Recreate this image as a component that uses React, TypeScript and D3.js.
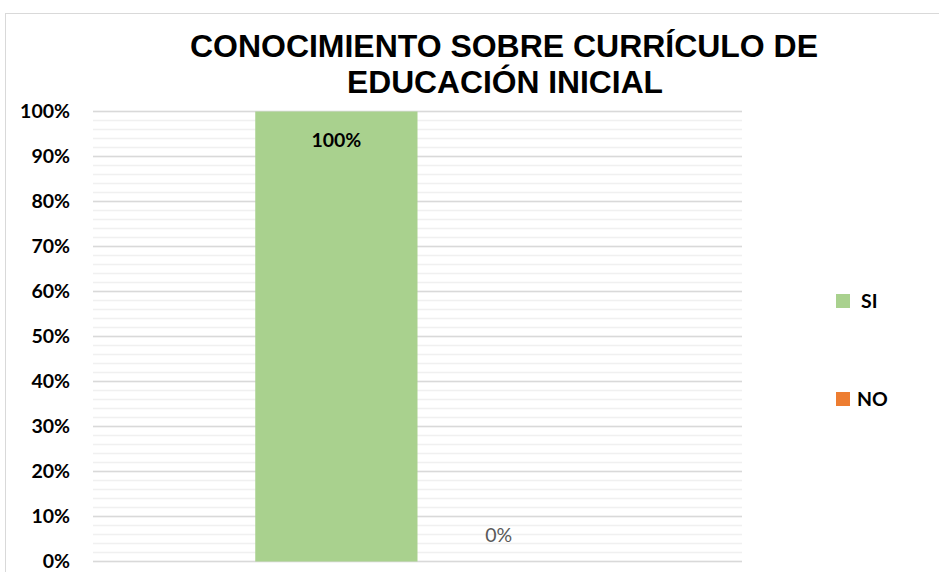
import React from "react";
import * as d3 from "d3";

const title = ["CONOCIMIENTO SOBRE CURRÍCULO DE", "EDUCACIÓN INICIAL"];
const categories = ["Conocimiento"];
const seriesNames = ["SI", "NO"];
const seriesValues = [1.0, 0.0];
const seriesColors = ["#a9d18e", "#ed7d31"];
const yTicks = [0, 0.1, 0.2, 0.3, 0.4, 0.5, 0.6, 0.7, 0.8, 0.9, 1.0];
const minorTicks = d3.range(0, 51).map((i) => i * 0.02);

const W = 939;
const H = 572;

export default function App() {
  const left = 93, right = 742, top = 111.5, bottom = 561.5;
  const y = d3.scaleLinear().domain([0, 1]).range([bottom, top]);
  const x0 = d3.scaleBand().domain(categories).range([left, right]).paddingInner(0).paddingOuter(0.5);
  const x1 = d3.scaleBand().domain(seriesNames).range([0, x0.bandwidth()]);
  const fmt = d3.format(".0%");
  const labelFont = "Lato, 'Open Sans', sans-serif";
  return (
    <svg width={W} height={H} style={{ position: "absolute", left: 0, top: 0, background: "#fff" }}>
      <rect x={5.5} y={13.5} width={W} height={H} fill="#fff" stroke="#d9d9d9" strokeWidth={1} />
      <text textAnchor="middle" fontFamily="'Liberation Sans', Arial, sans-serif" fontWeight="bold" fontSize={31} fill="#000">
        <tspan x={504} y={57} textLength={628} lengthAdjust="spacingAndGlyphs">{title[0]}</tspan>
        <tspan x={505} y={93} textLength={316} lengthAdjust="spacingAndGlyphs">{title[1]}</tspan>
      </text>
      {minorTicks.map((t, i) => (
        <line key={"m" + i} x1={left} x2={right} y1={y(t)} y2={y(t)} stroke="#f0f0f0" strokeWidth={1.5} />
      ))}
      {yTicks.map((t, i) => (
        <line key={"g" + i} x1={left} x2={right} y1={y(t)} y2={y(t)} stroke="#d9d9d9" strokeWidth={1.5} />
      ))}
      {yTicks.map((t, i) => (
        <text key={"t" + i} x={70} y={y(t)} dy="0.35em" textAnchor="end" fontFamily={labelFont} fontWeight="bold" fontSize={19.5} fill="#000">
          {fmt(t)}
        </text>
      ))}
      {categories.map((c) => (
        <g key={c} transform={`translate(${x0(c)},0)`}>
          {seriesNames.map((s, i) => {
            const v = seriesValues[i];
            const bx = x1(s)!;
            const bw = x1.bandwidth();
            return (
              <g key={s}>
                <rect x={bx} y={y(v)} width={bw} height={y(0) - y(v)} fill={seriesColors[i]} />
                {v > 0.5 ? (
                  <text x={bx + bw / 2} y={y(v) + 29} dy="0.35em" textAnchor="middle" fontFamily={labelFont} fontWeight="bold" fontSize={19.5} fill="#000">
                    {fmt(v)}
                  </text>
                ) : (
                  <text x={bx + bw / 2} y={y(v) - 26} dy="0.35em" textAnchor="middle" fontFamily={labelFont} fontSize={19.5} fill="#595959">
                    {fmt(v)}
                  </text>
                )}
              </g>
            );
          })}
        </g>
      ))}
      {seriesNames.map((s, i) => (
        <g key={"l" + s} transform={`translate(836,${301 + i * 98})`}>
          <rect x={0} y={-7} width={14} height={14} fill={seriesColors[i]} />
          <text x={i === 0 ? 25 : 21} y={0} dy="0.35em" fontFamily={labelFont} fontWeight="bold" fontSize={19.5} fill="#000">
            {s}
          </text>
        </g>
      ))}
    </svg>
  );
}
